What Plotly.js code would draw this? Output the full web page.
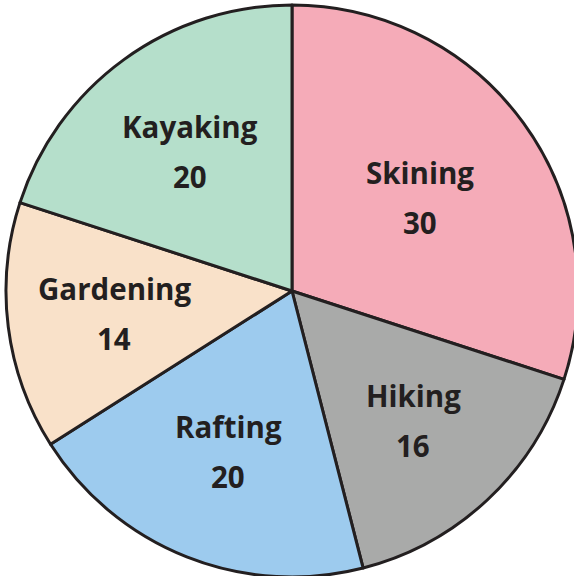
<!DOCTYPE html>
<html>
<head>
<meta charset="utf-8">
<script src="https://cdn.plot.ly/plotly-3.0.1.min.js"></script>
<style>
html,body{margin:0;padding:0;overflow:hidden;background:#fff;width:574px;height:576px;}
#chart{width:578px;height:577px;}
</style>
</head>
<body>
<div id="chart"></div>
<script>
const categories = ["Skining", "Hiking", "Rafting", "Gardening", "Kayaking"];
const values = [30, 16, 20, 14, 20];
const colors = ["#f5abb8", "#a9aaa9", "#9dcbee", "#f9e1c9", "#b5dfcb"];

const total = values.reduce((a, b) => a + b, 0);
const annotations = [];
let cum = 0;
const textFont = {family: "Open Sans, sans-serif", size: 29.5, color: "#231f20", weight: "bold"};
values.forEach((v, i) => {
  const half = Math.PI * v / total;             // half-angle of the slice
  const mid = 2 * Math.PI * cum / total + half; // clockwise from top
  cum += v;
  const f = 0.97 * 2 * Math.sin(half) / (3 * half); // sector centroid
  const x = 0.5 + 0.5 * f * Math.sin(mid);
  const y = 0.5 + 0.5 * f * Math.cos(mid);
  annotations.push({x: x, y: y, xref: "paper", yref: "paper", text: "<b>" + categories[i] + "</b>",
    showarrow: false, xanchor: "center", yanchor: "middle", yshift: 25, font: textFont});
  annotations.push({x: x, y: y, xref: "paper", yref: "paper", text: "<b>" + values[i] + "</b>",
    showarrow: false, xanchor: "center", yanchor: "middle", yshift: -25, font: textFont});
});

const data = [{
  type: "pie",
  labels: categories,
  values: values,
  sort: false,
  direction: "clockwise",
  rotation: 0,
  textinfo: "none",
  hoverinfo: "label+value",
  marker: {colors: colors, line: {color: "#231f20", width: 3}},
  domain: {x: [0, 1], y: [0, 1]}
}];

const layout = {
  width: 578,
  height: 577,
  margin: {l: 6, r: 0, t: 5, b: 0, pad: 0},
  showlegend: false,
  paper_bgcolor: "#ffffff",
  annotations: annotations
};

Plotly.newPlot("chart", data, layout, {displayModeBar: false, staticPlot: true});
</script>
</body>
</html>
